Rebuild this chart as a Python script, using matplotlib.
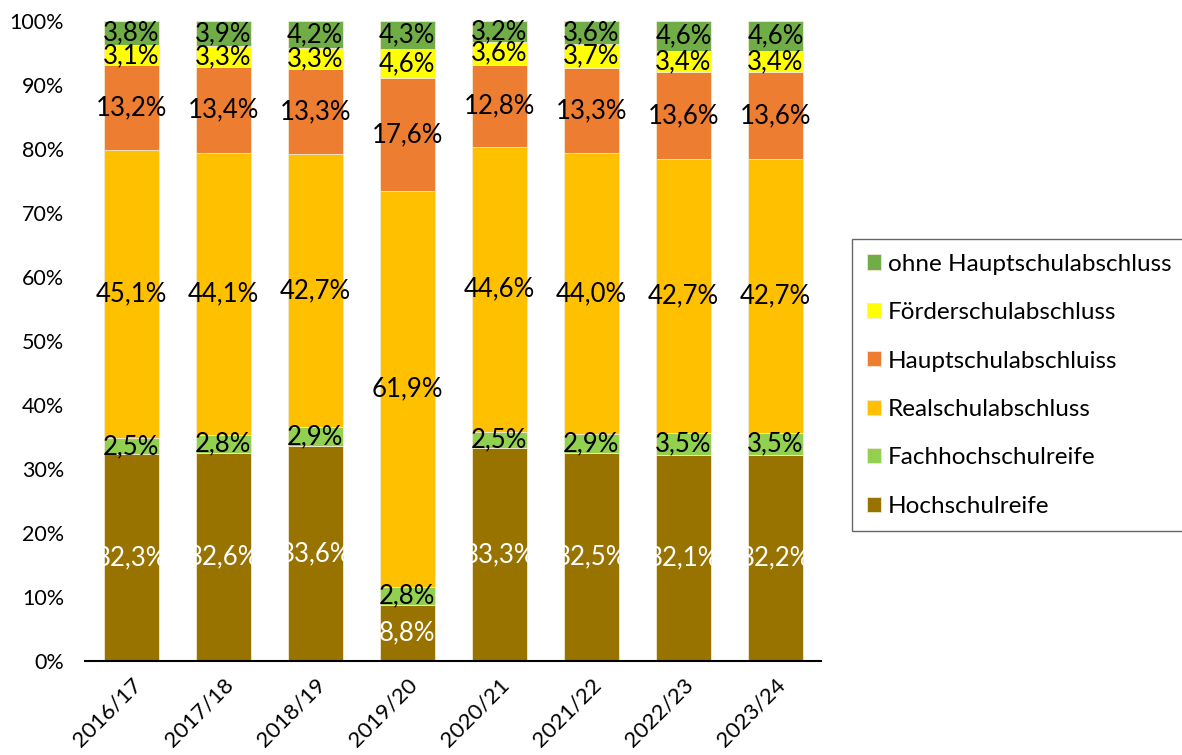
import matplotlib.pyplot as plt
import numpy as np

plt.rcParams['font.family'] = ['Lato', 'DejaVu Sans']

years = ["2016/17", "2017/18", "2018/19", "2019/20", "2020/21", "2021/22", "2022/23", "2023/24"]

# Anteile in %, von unten nach oben gestapelt
hochschulreife = [32.3, 32.6, 33.6, 8.8, 33.3, 32.5, 32.1, 32.2]
fachhochschulreife = [2.5, 2.8, 2.9, 2.8, 2.5, 2.9, 3.5, 3.5]
realschul = [45.1, 44.1, 42.7, 61.9, 44.6, 44.0, 42.7, 42.7]
hauptschul = [13.2, 13.4, 13.3, 17.6, 12.8, 13.3, 13.6, 13.6]
foerderschul = [3.1, 3.3, 3.3, 4.6, 3.6, 3.7, 3.4, 3.4]
ohne_hs = [3.8, 3.9, 4.2, 4.3, 3.2, 3.6, 4.6, 4.6]

series = [
    ("Hochschulreife", hochschulreife, "#997300", "white"),
    ("Fachhochschulreife", fachhochschulreife, "#92D050", "black"),
    ("Realschulabschluss", realschul, "#FFC000", "black"),
    ("Hauptschulabschluiss", hauptschul, "#ED7D31", "black"),
    ("Förderschulabschluss", foerderschul, "#FFFF00", "black"),
    ("ohne Hauptschulabschluss", ohne_hs, "#70AD47", "black"),
]

data = np.array([s[1] for s in series])
shares = data / data.sum(axis=0) * 100

fig = plt.figure(figsize=(11.82, 7.55), dpi=100)
ax = fig.add_axes([0.072, 0.1245, 0.623, 0.8475])

x = np.arange(len(years))
bottom = np.zeros(len(years))
handles = []
for i, (name, vals, color, tcolor) in enumerate(series):
    b = ax.bar(x, shares[i], 0.6, bottom=bottom, color=color, label=name,
               edgecolor="#f3e9d0", linewidth=0.6)
    handles.append(b)
    for j in range(len(years)):
        ax.text(x[j], bottom[j] + shares[i][j] / 2, f"{vals[j]:.1f}%".replace(".", ","),
                ha="center", va="center", fontsize=18.5, color=tcolor)
    bottom += shares[i]

ax.set_xlim(-0.5, 7.5)
ax.set_ylim(0, 100)
ax.set_yticks(np.arange(0, 101, 10))
ax.set_yticklabels([f"{v}%" for v in range(0, 101, 10)], fontsize=15.5)
ax.set_xticks(x)
ax.set_xticklabels(years, rotation=45, ha="right", rotation_mode="anchor", fontsize=16)
ax.tick_params(axis="y", length=0, pad=15)
ax.tick_params(axis="x", length=0, pad=10)
for s in ["top", "right", "left"]:
    ax.spines[s].set_visible(False)
ax.spines["bottom"].set_linewidth(1.5)

leg = fig.legend(handles[::-1], [s[0] for s in series][::-1], loc="upper left",
                 bbox_to_anchor=(852 / 1182, 1 - 239 / 755), fontsize=17.5,
                 frameon=True, fancybox=False, edgecolor="#404040",
                 handlelength=0.58, handleheight=0.58, labelspacing=1.13,
                 borderpad=0.6, handletextpad=0.3, borderaxespad=0)
leg.get_frame().set_linewidth(1.0)

fig.savefig("out.png", dpi=100)
